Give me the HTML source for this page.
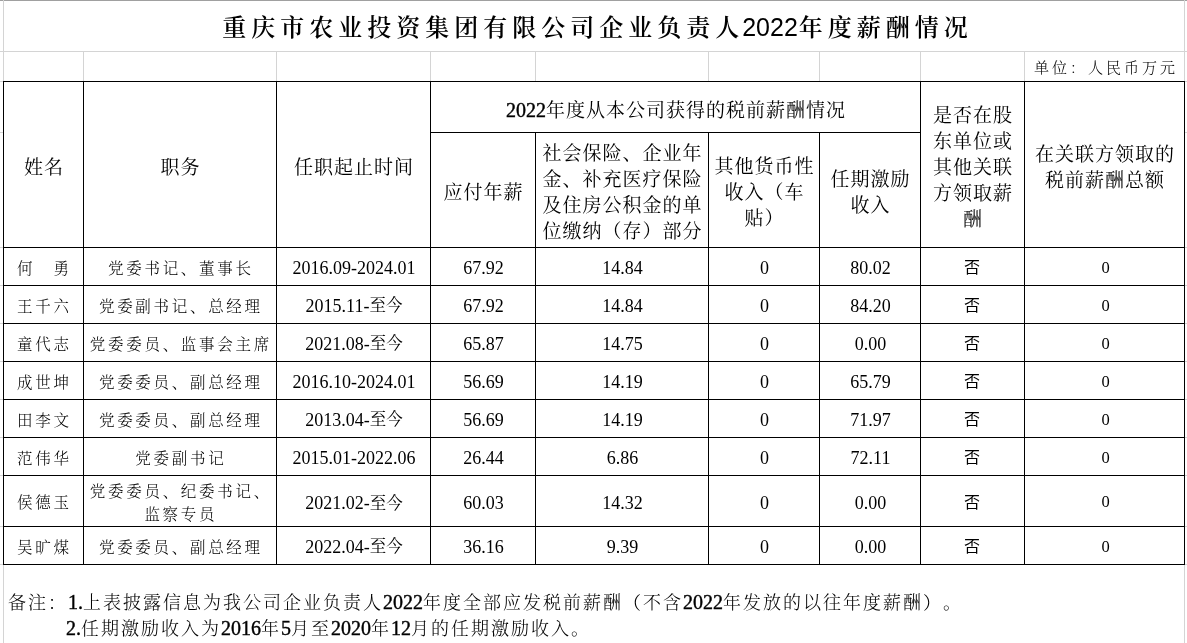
<!DOCTYPE html>
<html><head><meta charset="utf-8"><title>重庆市农业投资集团有限公司企业负责人2022年度薪酬情况</title>
<style>
html,body{margin:0;padding:0;background:#fff;}
body{width:1187px;height:643px;overflow:hidden;position:relative;color:#000;text-spacing-trim:space-all;}
i{position:absolute;display:block;}
.c{position:absolute;display:flex;align-items:center;justify-content:center;text-align:center;box-sizing:border-box;}
.c>span{display:block;position:relative;}
b{font-weight:normal;}
.title{font-family:"Liberation Serif","Noto Serif CJK SC",serif;font-size:24px;font-weight:600;letter-spacing:5px;}
.title>span{padding-left:8px;top:-0.5px;}
.title .sd{font-family:"Liberation Sans",sans-serif;font-weight:400;letter-spacing:0;font-size:25px;margin-left:-2px;margin-right:1px;}
.unit{position:absolute;right:9px;top:56px;font-family:"Noto Serif CJK SC",serif;font-weight:300;font-size:15px;letter-spacing:3px;line-height:22px;}
.hd{font-family:"Liberation Serif","Noto Serif CJK SC",serif;font-size:19px;letter-spacing:1px;line-height:26px;}
.hd>span{top:3px;left:0.5px;padding-left:1px;}
.hd .n{font-size:20px;font-weight:400;-webkit-text-stroke:0.4px #000;letter-spacing:0;}
.fs{font-family:"Noto Serif CJK SC",serif;font-weight:300;font-size:15.5px;letter-spacing:2.7px;line-height:23px;}
.fs>span{padding-left:2.7px;top:0.5px;}
.num{font-family:"Liberation Serif",serif;font-size:18px;line-height:20px;}
.num>span{top:1px;left:1px;}
.cj{font-family:"Noto Serif CJK SC",serif;font-size:16.5px;line-height:0;position:relative;top:-0.5px;}
.no{font-family:"Noto Sans CJK SC",sans-serif;font-size:16px;}
.no>span{top:-0.5px;left:0px;}
.zero{font-family:"Liberation Serif",serif;font-size:16.5px;}
.zero>span{top:1px;left:1.5px;}
.note{position:absolute;font-family:"Liberation Serif","Noto Serif CJK SC",serif;font-weight:300;font-size:18px;letter-spacing:2px;line-height:26px;white-space:nowrap;}
.note .nn{font-family:"Liberation Serif",serif;font-weight:400;-webkit-text-stroke:0.4px #000;letter-spacing:0;font-size:20px;}
.n1{left:8px;top:589px;}
.n2{left:66px;top:615px;}

</style></head><body>
<i style="left:0px;top:0px;width:1187px;height:1px;background:#a0a0a0"></i><i style="left:0px;top:51px;width:1187px;height:1px;background:#d4d4d4"></i><i style="left:3px;top:0px;width:1px;height:81px;background:#d4d4d4"></i><i style="left:1184px;top:0px;width:1px;height:81px;background:#d4d4d4"></i><i style="left:83px;top:51px;width:1px;height:30px;background:#d4d4d4"></i><i style="left:276px;top:51px;width:1px;height:30px;background:#d4d4d4"></i><i style="left:430px;top:51px;width:1px;height:30px;background:#d4d4d4"></i><i style="left:535px;top:51px;width:1px;height:30px;background:#d4d4d4"></i><i style="left:708px;top:51px;width:1px;height:30px;background:#d4d4d4"></i><i style="left:819px;top:51px;width:1px;height:30px;background:#d4d4d4"></i><i style="left:920px;top:51px;width:1px;height:30px;background:#d4d4d4"></i><i style="left:1024px;top:51px;width:1px;height:30px;background:#d4d4d4"></i><i style="left:0px;top:81px;width:3px;height:1px;background:#d4d4d4"></i><i style="left:1185px;top:81px;width:2px;height:1px;background:#d4d4d4"></i><i style="left:0px;top:132px;width:3px;height:1px;background:#d4d4d4"></i><i style="left:1185px;top:132px;width:2px;height:1px;background:#d4d4d4"></i><i style="left:0px;top:247px;width:3px;height:1px;background:#d4d4d4"></i><i style="left:1185px;top:247px;width:2px;height:1px;background:#d4d4d4"></i><i style="left:0px;top:285px;width:3px;height:1px;background:#d4d4d4"></i><i style="left:1185px;top:285px;width:2px;height:1px;background:#d4d4d4"></i><i style="left:0px;top:323px;width:3px;height:1px;background:#d4d4d4"></i><i style="left:1185px;top:323px;width:2px;height:1px;background:#d4d4d4"></i><i style="left:0px;top:361px;width:3px;height:1px;background:#d4d4d4"></i><i style="left:1185px;top:361px;width:2px;height:1px;background:#d4d4d4"></i><i style="left:0px;top:399px;width:3px;height:1px;background:#d4d4d4"></i><i style="left:1185px;top:399px;width:2px;height:1px;background:#d4d4d4"></i><i style="left:0px;top:437px;width:3px;height:1px;background:#d4d4d4"></i><i style="left:1185px;top:437px;width:2px;height:1px;background:#d4d4d4"></i><i style="left:0px;top:475px;width:3px;height:1px;background:#d4d4d4"></i><i style="left:1185px;top:475px;width:2px;height:1px;background:#d4d4d4"></i><i style="left:0px;top:526px;width:3px;height:1px;background:#d4d4d4"></i><i style="left:1185px;top:526px;width:2px;height:1px;background:#d4d4d4"></i><i style="left:0px;top:564px;width:3px;height:1px;background:#d4d4d4"></i><i style="left:1185px;top:564px;width:2px;height:1px;background:#d4d4d4"></i><i style="left:3px;top:565px;width:1px;height:78px;background:#d4d4d4"></i><i style="left:1184px;top:565px;width:1px;height:78px;background:#d4d4d4"></i><i style="left:3px;top:81px;width:1182px;height:1px;background:#000"></i><i style="left:430px;top:132px;width:491px;height:1px;background:#000"></i><i style="left:3px;top:247px;width:1182px;height:1px;background:#000"></i><i style="left:3px;top:285px;width:1182px;height:1px;background:#000"></i><i style="left:3px;top:323px;width:1182px;height:1px;background:#000"></i><i style="left:3px;top:361px;width:1182px;height:1px;background:#000"></i><i style="left:3px;top:399px;width:1182px;height:1px;background:#000"></i><i style="left:3px;top:437px;width:1182px;height:1px;background:#000"></i><i style="left:3px;top:475px;width:1182px;height:1px;background:#000"></i><i style="left:3px;top:526px;width:1182px;height:1px;background:#000"></i><i style="left:3px;top:564px;width:1182px;height:1px;background:#000"></i><i style="left:3px;top:81px;width:1px;height:484px;background:#000"></i><i style="left:83px;top:81px;width:1px;height:484px;background:#000"></i><i style="left:276px;top:81px;width:1px;height:484px;background:#000"></i><i style="left:430px;top:81px;width:1px;height:484px;background:#000"></i><i style="left:535px;top:132px;width:1px;height:433px;background:#000"></i><i style="left:708px;top:132px;width:1px;height:433px;background:#000"></i><i style="left:819px;top:132px;width:1px;height:433px;background:#000"></i><i style="left:920px;top:81px;width:1px;height:484px;background:#000"></i><i style="left:1024px;top:81px;width:1px;height:484px;background:#000"></i><i style="left:1184px;top:81px;width:1px;height:484px;background:#000"></i>
<div class="c title" style="left:3px;top:0px;width:1181px;height:51px;"><span>重庆市农业投资集团有限公司企业负责人<b class="sd">2022</b>年度薪酬情况</span></div>
<div class="unit">单位：人民币万元</div>
<div class="c hd" style="left:3px;top:82px;width:80px;height:165px;"><span>姓名</span></div>
<div class="c hd" style="left:83px;top:82px;width:193px;height:165px;"><span>职务</span></div>
<div class="c hd" style="left:276px;top:82px;width:154px;height:165px;"><span>任职起止时间</span></div>
<div class="c hd" style="left:430px;top:82px;width:490px;height:50px;"><span><b class="n">2022</b>年度从本公司获得的税前薪酬情况</span></div>
<div class="c hd" style="left:430px;top:133px;width:105px;height:114px;"><span>应付年薪</span></div>
<div class="c hd" style="left:535px;top:133px;width:173px;height:114px;"><span>社会保险、企业年<br>金、补充医疗保险<br>及住房公积金的单<br>位缴纳（存）部分</span></div>
<div class="c hd" style="left:708px;top:133px;width:111px;height:114px;"><span>其他货币性<br>收入（车<br>贴）</span></div>
<div class="c hd" style="left:819px;top:133px;width:101px;height:114px;"><span>任期激励<br>收入</span></div>
<div class="c hd" style="left:920px;top:82px;width:104px;height:165px;"><span>是否在股<br>东单位或<br>其他关联<br>方领取薪<br>酬</span></div>
<div class="c hd" style="left:1024px;top:82px;width:160px;height:165px;"><span>在关联方领取的<br>税前薪酬总额</span></div>
<div class="c fs" style="left:3px;top:248px;width:80px;height:37px;"><span>何　勇</span></div>
<div class="c fs pos" style="left:83px;top:248px;width:193px;height:37px;"><span>党委书记、董事长</span></div>
<div class="c num dt" style="left:276px;top:248px;width:154px;height:37px;"><span>2016.09-2024.01</span></div>
<div class="c num" style="left:430px;top:248px;width:105px;height:37px;"><span>67.92</span></div>
<div class="c num" style="left:535px;top:248px;width:173px;height:37px;"><span>14.84</span></div>
<div class="c num" style="left:708px;top:248px;width:111px;height:37px;"><span>0</span></div>
<div class="c num" style="left:819px;top:248px;width:101px;height:37px;"><span>80.02</span></div>
<div class="c no" style="left:920px;top:248px;width:104px;height:37px;"><span>否</span></div>
<div class="c zero" style="left:1024px;top:248px;width:160px;height:37px;"><span>0</span></div>
<div class="c fs" style="left:3px;top:286px;width:80px;height:37px;"><span>王千六</span></div>
<div class="c fs pos" style="left:83px;top:286px;width:193px;height:37px;"><span>党委副书记、总经理</span></div>
<div class="c num dt" style="left:276px;top:286px;width:154px;height:37px;"><span>2015.11-<span class="cj">至今</span></span></div>
<div class="c num" style="left:430px;top:286px;width:105px;height:37px;"><span>67.92</span></div>
<div class="c num" style="left:535px;top:286px;width:173px;height:37px;"><span>14.84</span></div>
<div class="c num" style="left:708px;top:286px;width:111px;height:37px;"><span>0</span></div>
<div class="c num" style="left:819px;top:286px;width:101px;height:37px;"><span>84.20</span></div>
<div class="c no" style="left:920px;top:286px;width:104px;height:37px;"><span>否</span></div>
<div class="c zero" style="left:1024px;top:286px;width:160px;height:37px;"><span>0</span></div>
<div class="c fs" style="left:3px;top:324px;width:80px;height:37px;"><span>童代志</span></div>
<div class="c fs pos" style="left:83px;top:324px;width:193px;height:37px;"><span>党委委员、监事会主席</span></div>
<div class="c num dt" style="left:276px;top:324px;width:154px;height:37px;"><span>2021.08-<span class="cj">至今</span></span></div>
<div class="c num" style="left:430px;top:324px;width:105px;height:37px;"><span>65.87</span></div>
<div class="c num" style="left:535px;top:324px;width:173px;height:37px;"><span>14.75</span></div>
<div class="c num" style="left:708px;top:324px;width:111px;height:37px;"><span>0</span></div>
<div class="c num" style="left:819px;top:324px;width:101px;height:37px;"><span>0.00</span></div>
<div class="c no" style="left:920px;top:324px;width:104px;height:37px;"><span>否</span></div>
<div class="c zero" style="left:1024px;top:324px;width:160px;height:37px;"><span>0</span></div>
<div class="c fs" style="left:3px;top:362px;width:80px;height:37px;"><span>成世坤</span></div>
<div class="c fs pos" style="left:83px;top:362px;width:193px;height:37px;"><span>党委委员、副总经理</span></div>
<div class="c num dt" style="left:276px;top:362px;width:154px;height:37px;"><span>2016.10-2024.01</span></div>
<div class="c num" style="left:430px;top:362px;width:105px;height:37px;"><span>56.69</span></div>
<div class="c num" style="left:535px;top:362px;width:173px;height:37px;"><span>14.19</span></div>
<div class="c num" style="left:708px;top:362px;width:111px;height:37px;"><span>0</span></div>
<div class="c num" style="left:819px;top:362px;width:101px;height:37px;"><span>65.79</span></div>
<div class="c no" style="left:920px;top:362px;width:104px;height:37px;"><span>否</span></div>
<div class="c zero" style="left:1024px;top:362px;width:160px;height:37px;"><span>0</span></div>
<div class="c fs" style="left:3px;top:400px;width:80px;height:37px;"><span>田李文</span></div>
<div class="c fs pos" style="left:83px;top:400px;width:193px;height:37px;"><span>党委委员、副总经理</span></div>
<div class="c num dt" style="left:276px;top:400px;width:154px;height:37px;"><span>2013.04-<span class="cj">至今</span></span></div>
<div class="c num" style="left:430px;top:400px;width:105px;height:37px;"><span>56.69</span></div>
<div class="c num" style="left:535px;top:400px;width:173px;height:37px;"><span>14.19</span></div>
<div class="c num" style="left:708px;top:400px;width:111px;height:37px;"><span>0</span></div>
<div class="c num" style="left:819px;top:400px;width:101px;height:37px;"><span>71.97</span></div>
<div class="c no" style="left:920px;top:400px;width:104px;height:37px;"><span>否</span></div>
<div class="c zero" style="left:1024px;top:400px;width:160px;height:37px;"><span>0</span></div>
<div class="c fs" style="left:3px;top:438px;width:80px;height:37px;"><span>范伟华</span></div>
<div class="c fs pos" style="left:83px;top:438px;width:193px;height:37px;"><span>党委副书记</span></div>
<div class="c num dt" style="left:276px;top:438px;width:154px;height:37px;"><span>2015.01-2022.06</span></div>
<div class="c num" style="left:430px;top:438px;width:105px;height:37px;"><span>26.44</span></div>
<div class="c num" style="left:535px;top:438px;width:173px;height:37px;"><span>6.86</span></div>
<div class="c num" style="left:708px;top:438px;width:111px;height:37px;"><span>0</span></div>
<div class="c num" style="left:819px;top:438px;width:101px;height:37px;"><span>72.11</span></div>
<div class="c no" style="left:920px;top:438px;width:104px;height:37px;"><span>否</span></div>
<div class="c zero" style="left:1024px;top:438px;width:160px;height:37px;"><span>0</span></div>
<div class="c fs" style="left:3px;top:476px;width:80px;height:50px;"><span>侯德玉</span></div>
<div class="c fs pos" style="left:83px;top:476px;width:193px;height:50px;"><span>党委委员、纪委书记、<br>监察专员</span></div>
<div class="c num dt" style="left:276px;top:476px;width:154px;height:50px;padding-top:2px;"><span>2021.02-<span class="cj">至今</span></span></div>
<div class="c num" style="left:430px;top:476px;width:105px;height:50px;padding-top:2px;"><span>60.03</span></div>
<div class="c num" style="left:535px;top:476px;width:173px;height:50px;padding-top:2px;"><span>14.32</span></div>
<div class="c num" style="left:708px;top:476px;width:111px;height:50px;padding-top:2px;"><span>0</span></div>
<div class="c num" style="left:819px;top:476px;width:101px;height:50px;padding-top:2px;"><span>0.00</span></div>
<div class="c no" style="left:920px;top:476px;width:104px;height:50px;"><span>否</span></div>
<div class="c zero" style="left:1024px;top:476px;width:160px;height:50px;"><span>0</span></div>
<div class="c fs" style="left:3px;top:527px;width:80px;height:37px;"><span>吴旷煤</span></div>
<div class="c fs pos" style="left:83px;top:527px;width:193px;height:37px;"><span>党委委员、副总经理</span></div>
<div class="c num dt" style="left:276px;top:527px;width:154px;height:37px;"><span>2022.04-<span class="cj">至今</span></span></div>
<div class="c num" style="left:430px;top:527px;width:105px;height:37px;"><span>36.16</span></div>
<div class="c num" style="left:535px;top:527px;width:173px;height:37px;"><span>9.39</span></div>
<div class="c num" style="left:708px;top:527px;width:111px;height:37px;"><span>0</span></div>
<div class="c num" style="left:819px;top:527px;width:101px;height:37px;"><span>0.00</span></div>
<div class="c no" style="left:920px;top:527px;width:104px;height:37px;"><span>否</span></div>
<div class="c zero" style="left:1024px;top:527px;width:160px;height:37px;"><span>0</span></div>
<div class="note n1">备注：<b class="nn">1.</b>上表披露信息为我公司企业负责人<b class="nn">2022</b>年度全部应发税前薪酬（不含<b class="nn">2022</b>年发放的以往年度薪酬）。</div>
<div class="note n2"><b class="nn">2.</b>任期激励收入为<b class="nn">2016</b>年<b class="nn">5</b>月至<b class="nn">2020</b>年<b class="nn">12</b>月的任期激励收入。</div>
</body></html>
